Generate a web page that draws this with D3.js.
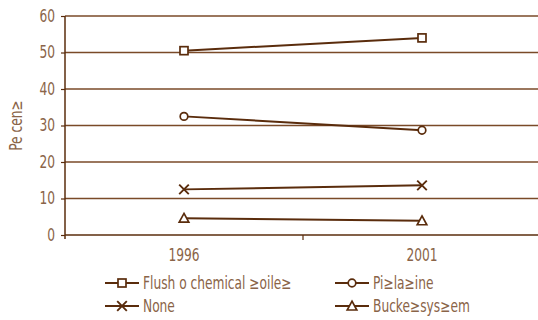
<!DOCTYPE html>
<html>
<head>
<meta charset="utf-8">
<script src="https://cdn.jsdelivr.net/npm/d3@7"></script>
<style>
  html, body { margin: 0; padding: 0; background: #fff; }
  svg { display: block; }
  text { font-family: "DejaVu Sans Condensed", "DejaVu Sans", sans-serif; font-stretch: condensed; }
</style>
</head>
<body>
<svg id="chart" width="538" height="320"></svg>
<script>
// Sanitation type by survey year, percent of households
const years = ["1996", "2001"];
const flushToilet = [50.5, 54.0];
const pitLatrine = [32.5, 28.7];
const noneValues = [12.5, 13.6];
const bucketSystem = [4.6, 3.9];
const yTicks = [0, 10, 20, 30, 40, 50, 60];
const seriesNames = ["Flush o  chemical \u2265oile\u2265", "Pi\u2265la\u2265ine", "None", "Bucke\u2265sys\u2265em"];
const yLabel = "Pe cen\u2265";

const series = [
  { name: seriesNames[0], values: flushToilet, symbol: "square" },
  { name: seriesNames[1], values: pitLatrine, symbol: "circle" },
  { name: seriesNames[2], values: noneValues, symbol: "cross" },
  { name: seriesNames[3], values: bucketSystem, symbol: "triangle" }
];

const lineColor = "#5a2c0c";
const gridColor = "#7a4a28";
const textColor = "#8a6448";
const fontSize = 17;
const squeeze = 0.8;   // narrow the lettering horizontally

const svg = d3.select("#chart");
const margin = { left: 65, right: 0, top: 16, bottom: 85 };
const width = 538, height = 320;

const x = d3.scaleBand().domain(years).range([margin.left, 541]);
const y = d3.scaleLinear().domain([0, 60]).range([height - margin.bottom, margin.top]);

// squeeze a text element horizontally around its own anchor point
function condense(sel) {
  sel.each(function () {
    const t = d3.select(this);
    const tx = +t.attr("x") || 0, ty = +t.attr("y") || 0;
    const prev = t.attr("transform") || "";
    t.attr("x", 0).attr("y", 0)
      .attr("transform", `${prev} translate(${tx},${ty}) scale(${squeeze},1)`);
  });
}

// horizontal grid lines
svg.append("g")
  .selectAll("line")
  .data(yTicks.filter(d => d > 0))
  .join("line")
  .attr("x1", margin.left).attr("x2", width)
  .attr("y1", d => y(d)).attr("y2", d => y(d))
  .attr("stroke", gridColor).attr("stroke-width", 1.3);

// y axis
const yAxis = svg.append("g")
  .attr("transform", `translate(${margin.left},0)`)
  .call(d3.axisLeft(y).tickValues(yTicks).tickSize(4).tickPadding(6));
yAxis.select(".domain").attr("stroke", lineColor).attr("stroke-width", 1.5)
  .attr("d", `M0,${y(60)}V${y(0) + 4}`);
yAxis.selectAll(".tick line").attr("stroke", lineColor).attr("stroke-width", 1.2);
yAxis.selectAll(".tick text").attr("fill", textColor).attr("font-size", fontSize).call(condense);

// x axis
const xAxis = svg.append("g")
  .attr("transform", `translate(0,${y(0)})`)
  .call(d3.axisBottom(x).tickSize(0).tickPadding(14));
xAxis.select(".domain").attr("stroke", lineColor).attr("stroke-width", 1.5)
  .attr("d", `M${margin.left},0H${width}`);
xAxis.selectAll(".tick text").attr("fill", textColor).attr("font-size", fontSize).call(condense);
// separators between year bands
svg.append("g")
  .selectAll("line")
  .data(years.slice(1))
  .join("line")
  .attr("x1", d => x(d)).attr("x2", d => x(d))
  .attr("y1", y(0)).attr("y2", y(0) + 5)
  .attr("stroke", lineColor).attr("stroke-width", 1.2);

// y axis title
svg.append("text")
  .attr("transform", `translate(22,${(y(0) + y(60)) / 2}) rotate(-90) scale(${squeeze},1)`)
  .attr("text-anchor", "middle")
  .attr("fill", textColor).attr("font-size", fontSize)
  .text(yLabel);

function drawSymbol(g, type, cx, cy) {
  const s = g.append("g").attr("transform", `translate(${cx},${cy})`)
    .attr("fill", "#fff").attr("stroke", lineColor).attr("stroke-width", 1.7);
  if (type === "square") {
    s.append("rect").attr("x", -4).attr("y", -4).attr("width", 8).attr("height", 8);
  } else if (type === "circle") {
    s.append("circle").attr("r", 3.8);
  } else if (type === "cross") {
    s.append("path").attr("d", "M-4.8,-4.8L4.8,4.8M-4.8,4.8L4.8,-4.8").attr("stroke-width", 1.9);
  } else if (type === "triangle") {
    s.append("path").attr("d", "M0,-4.8L4.8,4L-4.8,4Z");
  }
}

const cx = d => x(d) + x.bandwidth() / 2;
const line = d3.line().x((v, i) => cx(years[i])).y(v => y(v));

series.forEach(s => {
  const g = svg.append("g");
  g.append("path").datum(s.values)
    .attr("d", line).attr("fill", "none")
    .attr("stroke", lineColor).attr("stroke-width", 2);
  s.values.forEach((v, i) => drawSymbol(g, s.symbol, cx(years[i]), y(v)));
});

// legend
const legendPos = [[105, 283], [335, 283], [105, 306], [335, 306]];
series.forEach((s, i) => {
  const [lx, ly] = legendPos[i];
  const g = svg.append("g");
  g.append("line").attr("x1", lx).attr("x2", lx + 34).attr("y1", ly).attr("y2", ly)
    .attr("stroke", lineColor).attr("stroke-width", 1.8);
  drawSymbol(g, s.symbol, lx + 17, ly);
  g.append("text").attr("x", lx + 38).attr("y", ly + 6)
    .attr("fill", textColor).attr("font-size", fontSize)
    .text(s.name)
    .call(condense);
});
</script>
</body>
</html>
